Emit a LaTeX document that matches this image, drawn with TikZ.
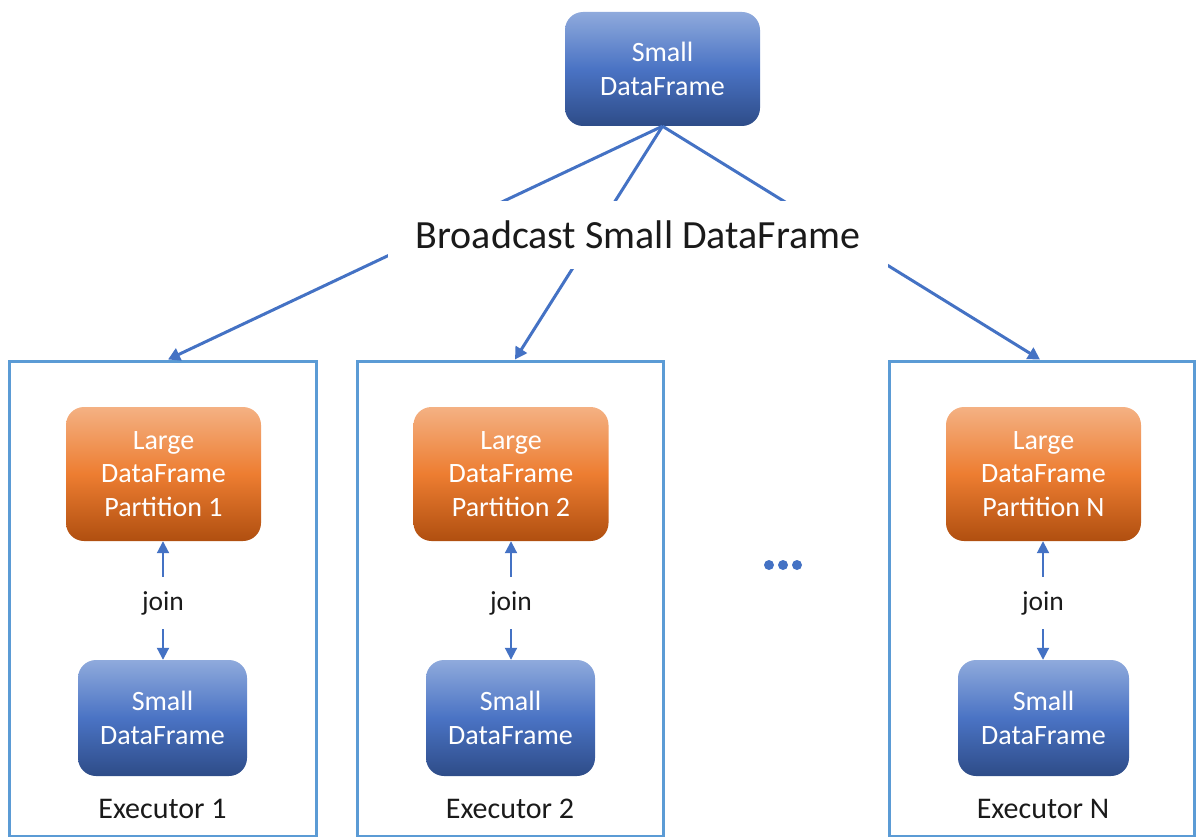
\documentclass[tikz,border=0pt]{standalone}
\usepackage{fontspec}
\setmainfont{Carlito}
\usetikzlibrary{arrows.meta,calc}
\definecolor{lineblue}{HTML}{4472C4}
\definecolor{frameblue}{HTML}{5B9BD5}
\definecolor{blueTop}{HTML}{8FAADC}
\definecolor{blueMid}{HTML}{4A73C4}
\definecolor{blueBot}{HTML}{2E4C88}
\definecolor{orTop}{HTML}{F4B183}
\definecolor{orMid}{HTML}{ED7D31}
\definecolor{orBot}{HTML}{B04F10}
\definecolor{ink}{HTML}{1A1A1A}

\begin{document}
\begin{tikzpicture}[x=1pt,y=-1pt,
  smallbox/.style={rectangle, rounded corners=18pt, top color=blueTop, bottom color=blueBot, middle color=blueMid,
    text=white, align=center, font=\fontsize{28}{33.5}\selectfont, inner sep=0pt},
  largebox/.style={rectangle, rounded corners=18pt, top color=orTop, bottom color=orBot, middle color=orMid,
    text=white, align=center, font=\fontsize{28}{33.5}\selectfont, inner sep=0pt,
    minimum width=195pt, minimum height=134pt},
  executor/.style={draw=frameblue, line width=3pt, rectangle, minimum height=475pt, inner sep=0pt},
  conn/.style={draw=lineblue, line width=3pt, -{Triangle[length=12pt,width=13pt]}},
  joinarrow/.style={draw=lineblue, line width=2pt, -{Triangle[length=12pt,width=12pt]}},
  joinlabel/.style={font=\fontsize{27.5}{32}\selectfont, text=ink, minimum height=52pt, inner sep=0pt},
  exlabel/.style={font=\fontsize{30}{35}\selectfont, text=ink, inner sep=0pt},
  bigtext/.style={fill=white, font=\fontsize{40}{46}\selectfont, text=ink, minimum width=500pt, minimum height=68pt, inner sep=0pt}
]
\useasboundingbox (0,0) rectangle (1196,837);

% source data frame
\node[smallbox, minimum width=195pt, minimum height=114pt] (top) at (662.5,69) {Small\\DataFrame};

% executor frames
\node[executor, minimum width=307pt] (ex1) at (162.5,598.5) {};
\node[executor, minimum width=306pt] (ex2) at (510,598.5) {};
\node[executor, minimum width=305pt] (exN) at (1041.5,598.5) {};

% broadcast connectors
\draw[conn] (top.south) -- ($(ex1.north)+(5.5,0)$);
\draw[conn] (top.south) -- ($(ex2.north)+(5,0)$);
\draw[conn] (top.south) -- ($(exN.north)+(-1.5,0)$);

\node[bigtext] (bc) at (638,235) {Broadcast Small DataFrame};

% executor contents
\node[largebox] (p1) at (163.5,474) {Large\\DataFrame\\Partition 1};
\node[largebox] (p2) at (511,474) {Large\\DataFrame\\Partition 2};
\node[largebox] (pN) at (1043.5,474) {Large\\DataFrame\\Partition N};

\node[smallbox, minimum width=169pt, minimum height=116pt] (s1) at (162.5,718) {Small\\DataFrame};
\node[smallbox, minimum width=169pt, minimum height=116pt] (s2) at (510.5,718) {Small\\DataFrame};
\node[smallbox, minimum width=171pt, minimum height=116pt] (sN) at (1043.5,718) {Small\\DataFrame};

\node[joinlabel] (j1) at (163,603) {join};
\node[joinlabel] (j2) at (511,603) {join};
\node[joinlabel] (jN) at (1043,603) {join};

\draw[joinarrow] (j1.north) -- (j1.north |- p1.south);
\draw[joinarrow] (j1.south) -- (j1.south |- s1.north);
\draw[joinarrow] (j2.north) -- (j2.north |- p2.south);
\draw[joinarrow] (j2.south) -- (j2.south |- s2.north);
\draw[joinarrow] (jN.north) -- (jN.north |- pN.south);
\draw[joinarrow] (jN.south) -- (jN.south |- sN.north);

\node[exlabel] (l1) at (162.5,809) {Executor 1};
\node[exlabel] (l2) at (510,809) {Executor 2};
\node[exlabel] (lN) at (1043,809) {Executor N};

% ellipsis between executors
\fill[lineblue] (769,565) circle (5pt) (783,565) circle (5pt) (797,565) circle (5pt);
\end{tikzpicture}
\end{document}
